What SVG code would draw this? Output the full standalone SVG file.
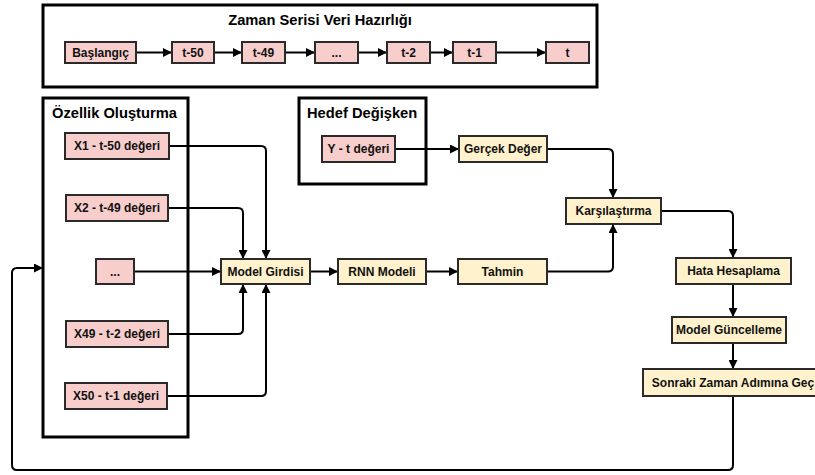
<svg xmlns="http://www.w3.org/2000/svg" width="815" height="475" viewBox="0 0 815 475">
  <defs>
    <marker id="arrow" viewBox="0 0 10 10" refX="10" refY="5" markerWidth="9" markerHeight="9" markerUnits="userSpaceOnUse" orient="auto">
      <path d="M0,0 L10,5 L0,10 Z" fill="#000"/>
    </marker>
    <style>
      .frame { fill: none; stroke: #000; stroke-width: 3; }
      .frame-title { font-family: "Liberation Sans", Arial, sans-serif; font-weight: bold; font-size: 14.7px; fill: #000; }
      .step rect { stroke: #2a2a2a; stroke-width: 2; }
      .pink rect { fill: #f8cecc; }
      .cream rect { fill: #fff2cc; }
      .step text { font-family: "Liberation Sans", Arial, sans-serif; font-weight: bold; font-size: 12px; fill: #111; text-anchor: middle; }
      .edge { fill: none; stroke: #000; stroke-width: 2; marker-end: url(#arrow); }
    </style>
  </defs>
  <rect width="815" height="475" fill="#ffffff"/>

  <!-- containers -->
  <g id="frame-series">
    <rect class="frame" x="43" y="5" width="554" height="82"/>
    <text class="frame-title" x="320" y="25" text-anchor="middle">Zaman Serisi Veri Hazırlığı</text>
  </g>
  <g id="frame-features">
    <rect class="frame" x="43" y="98" width="145" height="339"/>
    <text class="frame-title" x="52" y="118">Özellik Oluşturma</text>
  </g>
  <g id="frame-target">
    <rect class="frame" x="299" y="98" width="127" height="86"/>
    <text class="frame-title" x="307" y="118">Hedef Değişken</text>
  </g>

  <!-- connectors -->
  <g id="connectors">
    <path class="edge" d="M136,52.5 H172"/>
    <path class="edge" d="M214,52.5 H242"/>
    <path class="edge" d="M285,52.5 H315"/>
    <path class="edge" d="M358,52.5 H387"/>
    <path class="edge" d="M430,52.5 H453"/>
    <path class="edge" d="M496,52.5 H546"/>

    <path class="edge" d="M169,146 H261 Q266,146 266,151 V259"/>
    <path class="edge" d="M168,208 H238 Q243,208 243,213 V259"/>
    <path class="edge" d="M134,271.5 H221"/>
    <path class="edge" d="M168,334 H238 Q243,334 243,329 V284"/>
    <path class="edge" d="M167,396 H261 Q266,396 266,391 V284"/>

    <path class="edge" d="M310,271.5 H338"/>
    <path class="edge" d="M426,271.5 H458"/>
    <path class="edge" d="M395,149 H459"/>
    <path class="edge" d="M547,149 H608 Q613,149 613,154 V198"/>
    <path class="edge" d="M547,271.5 H608 Q613,271.5 613,266.5 V224"/>
    <path class="edge" d="M661,211 H728 Q733,211 733,216 V258"/>
    <path class="edge" d="M733,284 V317"/>
    <path class="edge" d="M733,343 V369"/>
    <path class="edge" d="M733,396 V465 Q733,470 728,470 H17 Q12,470 12,465 V273 Q12,268 17,268 H43"/>
  </g>

  <!-- time series row -->
  <g id="n-start" class="step pink"><rect x="65" y="42" width="71" height="21"/><text x="100.5" y="56.5">Başlangıç</text></g>
  <g id="n-t50" class="step pink"><rect x="172" y="42" width="42" height="21"/><text x="193" y="56.5">t-50</text></g>
  <g id="n-t49" class="step pink"><rect x="242" y="42" width="43" height="21"/><text x="263.5" y="56.5">t-49</text></g>
  <g id="n-dots-top" class="step pink"><rect x="315" y="42" width="43" height="21"/><text x="336.5" y="56.5">...</text></g>
  <g id="n-t2" class="step pink"><rect x="387" y="42" width="43" height="21"/><text x="408.5" y="56.5">t-2</text></g>
  <g id="n-t1" class="step pink"><rect x="453" y="42" width="43" height="21"/><text x="474.5" y="56.5">t-1</text></g>
  <g id="n-t" class="step pink"><rect x="546" y="42" width="43" height="21"/><text x="567.5" y="56.5">t</text></g>

  <!-- feature inputs -->
  <g id="n-x1" class="step pink"><rect x="65" y="133" width="104" height="26"/><text x="117" y="150">X1 - t-50 değeri</text></g>
  <g id="n-x2" class="step pink"><rect x="66" y="195" width="102" height="26"/><text x="117" y="212">X2 - t-49 değeri</text></g>
  <g id="n-dots" class="step pink"><rect x="96" y="259" width="38" height="25"/><text x="115" y="275.5">...</text></g>
  <g id="n-x49" class="step pink"><rect x="66" y="321" width="102" height="26"/><text x="117" y="338">X49 - t-2 değeri</text></g>
  <g id="n-x50" class="step pink"><rect x="65" y="383" width="102" height="26"/><text x="116" y="400">X50 - t-1 değeri</text></g>

  <!-- target -->
  <g id="n-y" class="step pink"><rect x="322" y="136" width="73" height="26"/><text x="358.5" y="153">Y - t değeri</text></g>

  <!-- model pipeline -->
  <g id="n-input" class="step cream"><rect x="221" y="259" width="89" height="25"/><text x="265.5" y="275.5">Model Girdisi</text></g>
  <g id="n-rnn" class="step cream"><rect x="338" y="259" width="88" height="25"/><text x="382" y="275.5">RNN Modeli</text></g>
  <g id="n-pred" class="step cream"><rect x="458" y="259" width="89" height="25"/><text x="502.5" y="275.5">Tahmin</text></g>
  <g id="n-actual" class="step cream"><rect x="459" y="136" width="88" height="26"/><text x="503" y="153">Gerçek Değer</text></g>
  <g id="n-compare" class="step cream"><rect x="566" y="198" width="95" height="26"/><text x="613.5" y="215">Karşılaştırma</text></g>
  <g id="n-error" class="step cream"><rect x="676" y="258" width="115" height="26"/><text x="733.5" y="275">Hata Hesaplama</text></g>
  <g id="n-update" class="step cream"><rect x="672" y="317" width="114" height="26"/><text x="729" y="334">Model Güncelleme</text></g>
  <g id="n-next" class="step cream"><rect x="643" y="369" width="180" height="27"/><text x="733" y="386.5">Sonraki Zaman Adımına Geç</text></g>
</svg>
